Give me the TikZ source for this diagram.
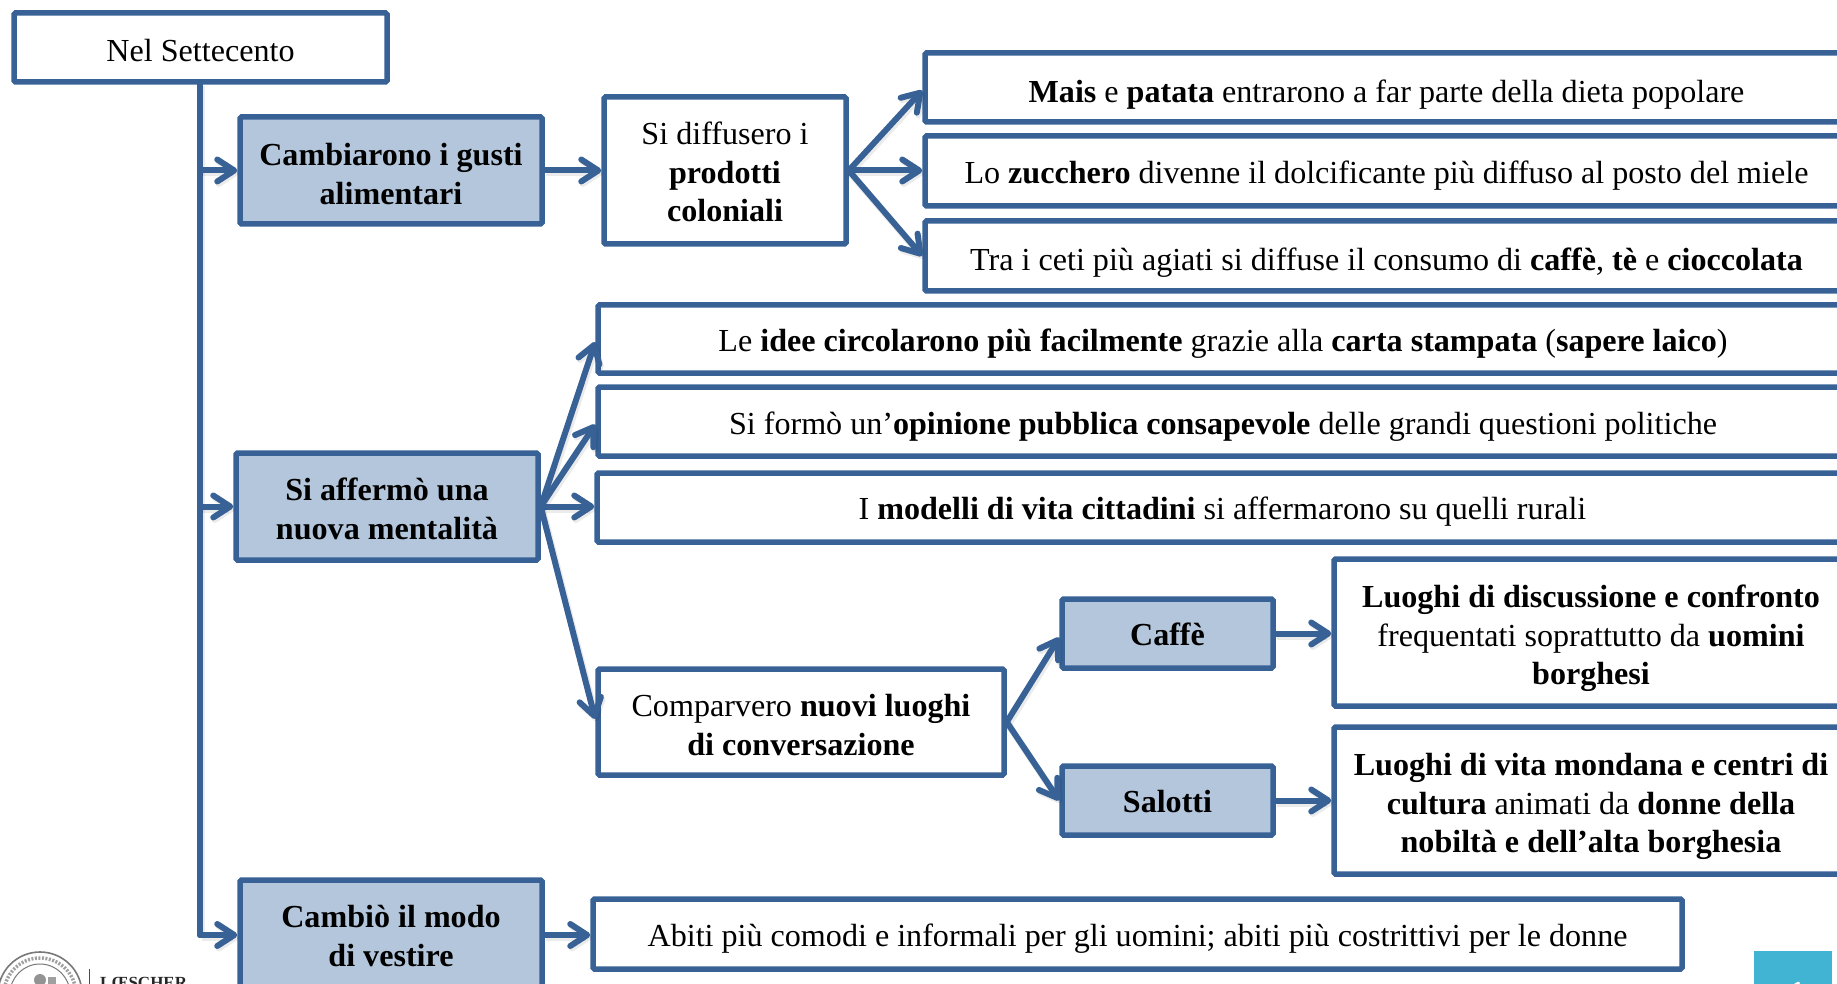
\documentclass[tikz,border=0pt]{standalone}
\usepackage{fontspec}
\setmainfont{Liberation Serif}
\usetikzlibrary{arrows.meta,calc}
\definecolor{edgeblue}{RGB}{56,98,150}
\definecolor{fillblue}{RGB}{179,198,219}
\definecolor{pagecyan}{RGB}{65,179,211}
\definecolor{sealgray}{RGB}{120,120,120}
\tikzset{
  box/.style={draw=edgeblue,line width=5.5pt,rounded corners=1.5pt,inner sep=0pt,font=\fontsize{32.1}{38.6}\selectfont,text=black,fill=white},
  filled/.style={box,fill=fillblue},
  conn/.style={draw=edgeblue,line width=6pt,line cap=round,
    preaction={draw=black,opacity=.08,line width=7pt,transform canvas={shift={(1.5pt,-2.5pt)}}}},
  arr/.style={conn,-{Straight Barb[length=17pt,width=22pt,line width=6pt,line cap=round,round]}},
}
% \bx{style}{name}{x1}{y1}{x2}{y2}{text drop}{text}
\newcommand{\bx}[8]{%
  \pgfmathsetmacro{\bw}{#5-#3}\pgfmathsetmacro{\bh}{#6-#4}%
  \pgfmathsetmacro{\cx}{(#3+#5)/2}\pgfmathsetmacro{\cy}{(#4+#6)/2}%
  \pgfmathsetmacro{\ks}{2*#7}%
  \node[#1,minimum width=\bw pt,minimum height=\bh pt] (#2) at (\cx,\cy)
    {\vbox{\kern\ks pt\hbox{\begin{tabular}{@{}c@{}}#8\end{tabular}}}};}
\begin{document}
\begin{tikzpicture}[x=1pt,y=-1pt]
\useasboundingbox (0,0) rectangle (1837,984);
\clip (0,0) rectangle (1837,984);
\coordinate (trunk) at (200,84);
\coordinate (trunkend) at (200,935);
\draw[conn] (trunk) -- (trunkend);
\bx{box}{nel}{14}{13}{387}{82}{6}{Nel Settecento}
\bx{filled}{gusti}{240}{117}{542}{224}{6.5}{\textbf{Cambiarono i gusti}\\\textbf{alimentari}}
\bx{box}{prod}{604}{97}{846}{244}{5}{Si diffusero i\\\textbf{prodotti}\\\textbf{coloniali}}
\bx{box}{mais}{925}{53}{1848}{122}{7}{\textbf{Mais} e \textbf{patata} entrarono a far parte della dieta popolare}
\bx{box}{zucc}{925}{136}{1848}{206}{5}{Lo \textbf{zucchero} divenne il dolcificante più diffuso al posto del miele}
\bx{box}{ceti}{925}{221}{1848}{291}{7}{Tra i ceti più agiati si diffuse il consumo di \textbf{caffè}, \textbf{tè} e \textbf{cioccolata}}
\bx{filled}{ment}{236}{453}{538}{560}{6}{\textbf{Si affermò una}\\\textbf{nuova mentalità}}
\bx{box}{idee}{598}{305}{1848}{373}{5}{Le \textbf{idee circolarono più facilmente} grazie alla \textbf{carta stampata} (\textbf{sapere laico})}
\bx{box}{opin}{598}{387}{1848}{456}{5}{Si formò un’\textbf{opinione pubblica consapevole} delle grandi questioni politiche}
\bx{box}{mode}{597}{473}{1848}{542}{4}{I \textbf{modelli di vita cittadini} si affermarono su quelli rurali}
\bx{box}{luog}{598}{669}{1004}{775}{6}{Comparvero \textbf{nuovi luoghi}\\\textbf{di conversazione}}
\bx{filled}{caff}{1062}{599}{1273}{668}{4}{\textbf{Caffè}}
\bx{filled}{salo}{1062}{766}{1273}{835}{4.5}{\textbf{Salotti}}
\bx{box}{disc}{1334}{559}{1848}{706}{6}{\textbf{Luoghi di discussione e confronto}\\frequentati soprattutto da \textbf{uomini}\\\textbf{borghesi}}
\bx{box}{mond}{1334}{727}{1848}{874}{6}{\textbf{Luoghi di vita mondana e centri di}\\\textbf{cultura} animati da \textbf{donne della}\\\textbf{nobiltà e dell’alta borghesia}}
\bx{filled}{vest}{240}{880}{542}{990}{4}{\textbf{Cambiò il modo}\\\textbf{di vestire}}
\bx{box}{abit}{593}{899}{1682}{969}{5}{Abiti più comodi e informali per gli uomini; abiti più costrittivi per le donne}
\draw[arr] (trunk |- vest.west) -- (vest.west);
\draw[arr] (trunk |- gusti.west) -- (gusti.west);
\draw[arr] (trunk |- ment.west) -- (ment.west);
\draw[arr] (gusti.east) -- (prod.west);
\draw[arr] (prod.east) -- ($(mais.west)+(0,3)$);
\draw[arr] (prod.east) -- (prod.east -| zucc.west);
\draw[arr] (prod.east) -- (ceti.west);
\draw[arr] (ment.east) -- ($(idee.west)+(0,3)$);
\draw[arr] (ment.east) -- ($(opin.west)+(0,3)$);
\draw[arr] (ment.east) -- (ment.east -| mode.west);
\draw[arr] (ment.east) -- ($(luog.west)+(0,-3)$);
\draw[arr] (luog.east) -- ($(caff.west)+(0,4)$);
\draw[arr] (luog.east) -- (salo.west);
\draw[arr] (caff.east) -- (caff.east -| disc.west);
\draw[arr] (salo.east) -- (salo.east -| mond.west);
\draw[arr] (vest.east) -- (vest.east -| abit.west);
% page tab
\fill[pagecyan] (1754,951) rectangle (1832,990);
\node[text=white,font=\fontsize{32}{38}\selectfont\bfseries,anchor=base,inner sep=0pt] (pageno) at (1797,1003) {1};
% publisher mark
\draw[sealgray,line width=1.6pt] (40,994) circle (42);
\draw[sealgray,line width=3.5pt,dash pattern=on 2pt off 1.5pt,opacity=.7] (40,994) circle (36);
\draw[sealgray,line width=1pt] (40,994) circle (30);
\fill[sealgray,opacity=.8] (40,980) circle (6);
\fill[sealgray,opacity=.7] (48,977) rectangle (56,990);
\draw[black!70,line width=1pt] (89,969) -- (89,990);
\node[anchor=base west,inner sep=0pt,font=\fontsize{17}{20}\selectfont\bfseries,text=black!85] (brand) at (100,988) {LŒSCHER};
\end{tikzpicture}
\end{document}
